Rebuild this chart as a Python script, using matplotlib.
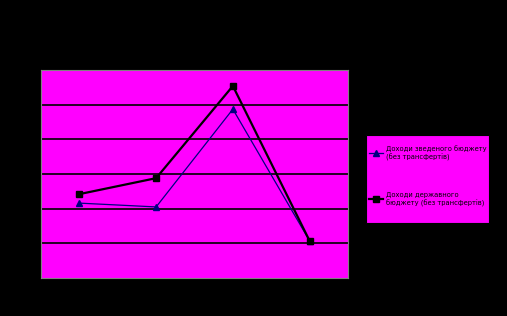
import matplotlib
matplotlib.use('Agg')
import matplotlib.pyplot as plt
from matplotlib.patches import Rectangle

# chart data (arbitrary units, grid step = 1)
categories = ['1', '2', '3', '4']
consolidated = [2.16, 2.05, 4.87, 1.07]   # blue triangles
state = [2.42, 2.88, 5.54, 1.07]          # black squares
labels = ['Доходи зведеного бюджету\n(без трансфертів)',
          'Доходи державного\nбюджету (без трансфертів)']

fig = plt.figure(figsize=(5.07, 3.16), dpi=100, facecolor='black')
ax = fig.add_axes([41/507, 38/316, 307/507, 208/316], facecolor='#ff00ff')

x = range(len(categories))
l1, = ax.plot(x, consolidated, color='#000080', lw=0.9, marker='^', ms=4,
              mfc='#000080', mec='#000080')
l2, = ax.plot(x, state, color='black', lw=1.6, marker='s', ms=4.5,
              mfc='black', mec='black')

ax.set_xlim(-0.5, 3.5)
ax.set_ylim(0, 6)
ax.set_yticks([1, 2, 3, 4, 5])
ax.yaxis.grid(True, color='black', lw=1.2)
ax.set_axisbelow(True)
ax.tick_params(length=0, labelleft=False, labelbottom=False)
for s in ax.spines.values():
    s.set_color('#808080')
    s.set_linewidth(0.8)

# legend box drawn separately so its size matches the original
fig.patches.append(Rectangle((366/507, 1 - 223/316), 123/507, 88/316,
                             transform=fig.transFigure, facecolor='#ff00ff',
                             edgecolor='black', lw=0.8, zorder=1))
leg = fig.legend([l1, l2], labels, loc='upper left',
                 bbox_to_anchor=(369/507, 1 - 145/316),
                 fontsize=4.9, frameon=False,
                 labelspacing=4.6, borderpad=0, handlelength=2.0,
                 handletextpad=0.5, borderaxespad=0)
leg.set_zorder(2)

fig.savefig('out.png', dpi=100, facecolor='black')
